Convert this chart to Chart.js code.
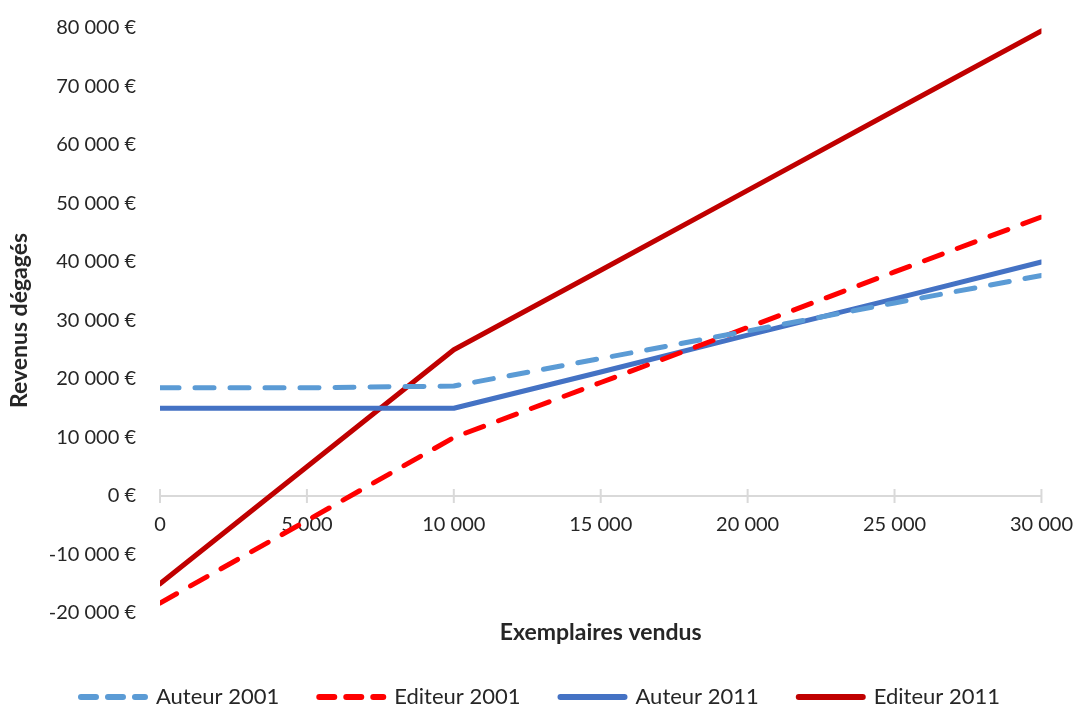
<!DOCTYPE html>
<html>
<head>
<meta charset="utf-8">
<script src="https://cdn.jsdelivr.net/npm/chart.js@4.4.1/dist/chart.umd.min.js"></script>
<style>
  html, body { margin: 0; padding: 0; background: #ffffff; }
  canvas { display: block; }
</style>
</head>
<body>
<canvas id="chart" width="1082" height="711"></canvas>
<script>
// Revenus dégagés selon le nombre d'exemplaires vendus
const exemplaires = [0, 5000, 10000, 15000, 20000, 25000, 30000];
const auteur2001  = [18500, 18500, 18800, 23500, 28200, 33000, 37700];
const editeur2001 = [-18300, -4200, 10000, 19400, 28800, 38300, 47700];
const auteur2011  = [15000, 15000, 15000, 21200, 27500, 33700, 40000];
const editeur2011 = [-15000, 5000, 25000, 38600, 52250, 65900, 79500];

const xTickValues = [0, 5000, 10000, 15000, 20000, 25000, 30000];
const yTickValues = [-20000, -10000, 0, 10000, 20000, 30000, 40000, 50000, 60000, 70000, 80000];

const FONT = 'Lato, "Open Sans", sans-serif';
const TEXT = '#262626';

function groupThousands(n) {
  const s = String(Math.abs(n)).replace(/\B(?=(\d{3})+(?!\d))/g, ' ');
  return (n < 0 ? '-' : '') + s;
}

function points(values) {
  return exemplaires.map((x, i) => ({ x: x, y: values[i] }));
}

// Axis line through zero with tick marks crossing it
const zeroAxis = {
  id: 'zeroAxis',
  beforeDatasetsDraw(chart) {
    const { ctx, chartArea, scales } = chart;
    const y0 = scales.y.getPixelForValue(0);
    ctx.save();
    ctx.strokeStyle = '#d9d9d9';
    ctx.lineWidth = 2;
    ctx.beginPath();
    ctx.moveTo(chartArea.left, y0);
    ctx.lineTo(chartArea.right, y0);
    xTickValues.forEach(v => {
      const px = scales.x.getPixelForValue(v);
      ctx.moveTo(px, y0 - 7);
      ctx.lineTo(px, y0 + 7);
    });
    ctx.stroke();
    ctx.restore();
  }
};

// Centre the legend row on its visible items (the last item's trailing gap is dropped)
const legendCentering = {
  id: 'legendCentering',
  afterLayout(chart) {
    const lg = chart.legend;
    if (!lg) return;
    const shift = lg.options.labels.padding / 2 - 10;
    lg.left += shift;
    lg.right += shift;
  }
};

const dashed = [19, 16];

new Chart(document.getElementById('chart'), {
  type: 'line',
  data: {
    datasets: [
      { label: 'Auteur 2001', data: points(auteur2001), borderColor: '#5b9bd5', backgroundColor: '#5b9bd5', borderDash: dashed },
      { label: 'Editeur 2001', data: points(editeur2001), borderColor: '#ff0000', backgroundColor: '#ff0000', borderDash: dashed },
      { label: 'Auteur 2011', data: points(auteur2011), borderColor: '#4472c4', backgroundColor: '#4472c4' },
      { label: 'Editeur 2011', data: points(editeur2011), borderColor: '#c00000', backgroundColor: '#c00000' }
    ]
  },
  options: {
    responsive: false,
    devicePixelRatio: 1,
    animation: false,
    elements: {
      line: { borderWidth: 5, tension: 0, borderCapStyle: 'round', borderJoinStyle: 'round', fill: false },
      point: { radius: 0, hoverRadius: 0 }
    },
    layout: { padding: { top: 8, right: 21, bottom: -7, left: 0 } },
    plugins: {
      legend: {
        position: 'bottom',
        labels: {
          usePointStyle: true,
          pointStyle: 'line',
          pointStyleWidth: 64,
          padding: 40,
          color: TEXT,
          font: { family: FONT, size: 22 },
          generateLabels(chart) {
            return chart.data.datasets.map((ds, i) => ({
              text: ds.label,
              fillStyle: ds.borderColor,
              strokeStyle: ds.borderColor,
              lineWidth: 6,
              lineDash: ds.borderDash ? [15, 12] : [],
              lineCap: 'round',
              pointStyle: 'line',
              fontColor: TEXT,
              hidden: false,
              datasetIndex: i
            }));
          }
        }
      },
      tooltip: { enabled: false }
    },
    scales: {
      x: {
        type: 'linear',
        position: { y: 0 },
        min: 0,
        max: 30000,
        afterBuildTicks(scale) { scale.ticks = xTickValues.map(v => ({ value: v })); },
        grid: { display: false },
        border: { display: false },
        ticks: {
          padding: 9,
          color: TEXT,
          font: { family: FONT, size: 20 },
          maxRotation: 0,
          callback: v => groupThousands(v)
        }
      },
      xTitle: {
        type: 'linear',
        axis: 'x',
        position: 'bottom',
        min: 0,
        max: 30000,
        grid: { display: false },
        border: { display: false },
        ticks: { display: false },
        afterFit(scale) { scale.height = 33; },
        title: {
          display: true,
          text: 'Exemplaires vendus',
          color: TEXT,
          font: { family: FONT, size: 23, weight: 'bold' },
          padding: { top: 4, bottom: 0 }
        }
      },
      y: {
        type: 'linear',
        min: -20000,
        max: 80000,
        afterBuildTicks(scale) { scale.ticks = yTickValues.map(v => ({ value: v })); },
        afterFit(scale) { scale.width = 160; },
        grid: { display: false },
        border: { display: false },
        ticks: {
          padding: 16,
          color: TEXT,
          font: { family: FONT, size: 20 },
          callback: v => groupThousands(v) + ' €'
        },
        title: {
          display: true,
          text: 'Revenus dégagés',
          color: TEXT,
          font: { family: FONT, size: 23, weight: 'bold' },
          padding: { top: 6, bottom: 4 }
        }
      }
    }
  },
  plugins: [zeroAxis, legendCentering]
});
</script>
</body>
</html>
